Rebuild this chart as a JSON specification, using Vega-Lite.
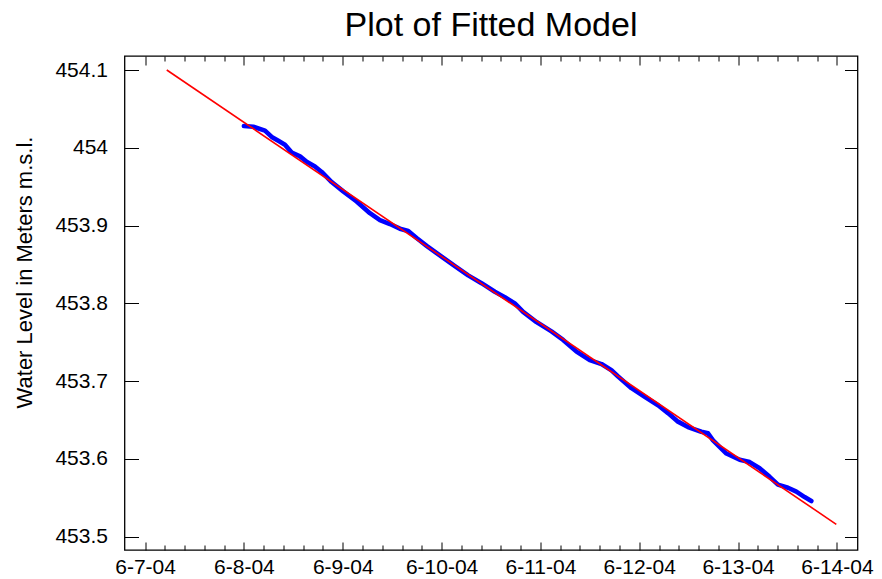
{
  "$schema": "https://vega.github.io/schema/vega-lite/v6.json",
  "width": 733,
  "height": 494,
  "autosize": "none",
  "padding": {"left": 124.5, "top": 56, "right": 24.5, "bottom": 29},
  "background": "white",
  "title": {
    "text": "Plot of Fitted Model",
    "font": "Liberation Sans",
    "fontSize": 34,
    "fontWeight": "normal",
    "color": "black",
    "anchor": "middle",
    "frame": "group",
    "baseline": "alphabetic",
    "offset": 19,
    "dy": 33
  },
  "config": {
    "view": {"stroke": "black", "strokeWidth": 1.3},
    "axis": {
      "grid": false,
      "domain": false,
      "tickColor": "black",
      "tickWidth": 1,
      "labelColor": "black",
      "labelFont": "Liberation Sans",
      "labelFontSize": 21,
      "titleFont": "Liberation Sans",
      "titleColor": "black"
    }
  },
  "datasets": {
    "obs": [
      {"t": "2004-06-08T00:00", "v": 454.028},
      {"t": "2004-06-08T02:17", "v": 454.027},
      {"t": "2004-06-08T05:07", "v": 454.022},
      {"t": "2004-06-08T06:45", "v": 454.014},
      {"t": "2004-06-08T08:21", "v": 454.009},
      {"t": "2004-06-08T09:58", "v": 454.004},
      {"t": "2004-06-08T11:36", "v": 453.994},
      {"t": "2004-06-08T13:37", "v": 453.989},
      {"t": "2004-06-08T15:14", "v": 453.982},
      {"t": "2004-06-08T17:15", "v": 453.976},
      {"t": "2004-06-08T18:53", "v": 453.969},
      {"t": "2004-06-08T21:18", "v": 453.956},
      {"t": "2004-06-09T00:07", "v": 453.944},
      {"t": "2004-06-09T03:22", "v": 453.931},
      {"t": "2004-06-09T06:36", "v": 453.916},
      {"t": "2004-06-09T09:02", "v": 453.907},
      {"t": "2004-06-09T11:27", "v": 453.902},
      {"t": "2004-06-09T13:53", "v": 453.896},
      {"t": "2004-06-09T15:54", "v": 453.893},
      {"t": "2004-06-09T17:56", "v": 453.884},
      {"t": "2004-06-09T20:22", "v": 453.874},
      {"t": "2004-06-10T00:00", "v": 453.860},
      {"t": "2004-06-10T03:14", "v": 453.848},
      {"t": "2004-06-10T06:27", "v": 453.836},
      {"t": "2004-06-10T09:42", "v": 453.826},
      {"t": "2004-06-10T12:56", "v": 453.815},
      {"t": "2004-06-10T15:22", "v": 453.808},
      {"t": "2004-06-10T17:47", "v": 453.800},
      {"t": "2004-06-10T19:48", "v": 453.789},
      {"t": "2004-06-10T23:03", "v": 453.776},
      {"t": "2004-06-11T02:41", "v": 453.764},
      {"t": "2004-06-11T05:31", "v": 453.753},
      {"t": "2004-06-11T08:46", "v": 453.738},
      {"t": "2004-06-11T11:59", "v": 453.727},
      {"t": "2004-06-11T14:50", "v": 453.722},
      {"t": "2004-06-11T17:15", "v": 453.714},
      {"t": "2004-06-11T18:52", "v": 453.706},
      {"t": "2004-06-11T22:07", "v": 453.691},
      {"t": "2004-06-12T01:20", "v": 453.680},
      {"t": "2004-06-12T04:34", "v": 453.669},
      {"t": "2004-06-12T06:59", "v": 453.659},
      {"t": "2004-06-12T09:25", "v": 453.648},
      {"t": "2004-06-12T11:50", "v": 453.641},
      {"t": "2004-06-12T15:05", "v": 453.635},
      {"t": "2004-06-12T16:42", "v": 453.633},
      {"t": "2004-06-12T17:55", "v": 453.624},
      {"t": "2004-06-12T21:10", "v": 453.607},
      {"t": "2004-06-13T00:23", "v": 453.599},
      {"t": "2004-06-13T02:49", "v": 453.596},
      {"t": "2004-06-13T05:14", "v": 453.588},
      {"t": "2004-06-13T07:40", "v": 453.577},
      {"t": "2004-06-13T09:41", "v": 453.567},
      {"t": "2004-06-13T12:07", "v": 453.563},
      {"t": "2004-06-13T14:09", "v": 453.558},
      {"t": "2004-06-13T16:10", "v": 453.551},
      {"t": "2004-06-13T17:47", "v": 453.546}
    ],
    "fit": [
      {"t": "2004-06-07T05:16", "v": 454.1},
      {"t": "2004-06-13T23:51", "v": 453.516}
    ]
  },
  "resolve": {"axis": {"x": "independent", "y": "independent"}},
  "layer": [
    {
      "data": {"name": "obs"},
      "mark": {"type": "line", "color": "#0000ff", "strokeWidth": 4.6, "strokeCap": "round", "strokeJoin": "round"},
      "encoding": {
        "x": {
          "field": "t", "type": "temporal",
          "scale": {"domain": [{"year": 2004, "month": 6, "date": 6, "hours": 19}, {"year": 2004, "month": 6, "date": 14, "hours": 5}]},
          "axis": {
            "orient": "bottom", "title": null, "ticks": false, "labelPadding": 6.5,
            "format": "%-m-%-d-%y", "formatType": "time", "labelFlush": false, "labelOverlap": false,
            "values": [
              {"year": 2004, "month": 6, "date": 7}, {"year": 2004, "month": 6, "date": 8},
              {"year": 2004, "month": 6, "date": 9}, {"year": 2004, "month": 6, "date": 10},
              {"year": 2004, "month": 6, "date": 11}, {"year": 2004, "month": 6, "date": 12},
              {"year": 2004, "month": 6, "date": 13}, {"year": 2004, "month": 6, "date": 14}
            ]
          }
        },
        "y": {
          "field": "v", "type": "quantitative",
          "scale": {"domain": [453.483, 454.118], "zero": false, "nice": false},
          "axis": {
            "orient": "left", "ticks": false, "labelPadding": 17, "format": "~g", "labelFlush": false,
            "values": [453.5, 453.6, 453.7, 453.8, 453.9, 454.0, 454.1],
            "title": "Water Level in Meters m.s.l.",
            "titleFontSize": 22, "titleFontWeight": "normal", "titleAngle": -90,
            "titleAlign": "center", "titleBaseline": "alphabetic",
            "titleX": -93.5, "titleY": 216
          }
        }
      }
    },
    {
      "data": {"name": "fit"},
      "mark": {"type": "line", "color": "#ff0000", "strokeWidth": 1.6},
      "encoding": {
        "x": {
          "field": "t", "type": "temporal",
          "scale": {"domain": [{"year": 2004, "month": 6, "date": 6, "hours": 19}, {"year": 2004, "month": 6, "date": 14, "hours": 5}]},
          "axis": {
            "orient": "bottom", "title": null, "labels": false, "tickSize": -8,
            "values": [
              {"year": 2004, "month": 6, "date": 7}, {"year": 2004, "month": 6, "date": 8},
              {"year": 2004, "month": 6, "date": 9}, {"year": 2004, "month": 6, "date": 10},
              {"year": 2004, "month": 6, "date": 11}, {"year": 2004, "month": 6, "date": 12},
              {"year": 2004, "month": 6, "date": 13}, {"year": 2004, "month": 6, "date": 14}
            ]
          }
        },
        "y": {
          "field": "v", "type": "quantitative",
          "scale": {"domain": [453.483, 454.118], "zero": false, "nice": false},
          "axis": {
            "orient": "left", "title": null, "labels": false, "tickSize": -14,
            "values": [453.5, 453.6, 453.7, 453.8, 453.9, 454.0, 454.1]
          }
        }
      }
    },
    {
      "data": {"name": "fit"},
      "mark": {"type": "line", "strokeOpacity": 0},
      "encoding": {
        "x": {
          "field": "t", "type": "temporal",
          "scale": {"domain": [{"year": 2004, "month": 6, "date": 6, "hours": 19}, {"year": 2004, "month": 6, "date": 14, "hours": 5}]},
          "axis": {
            "orient": "bottom", "title": null, "labels": false, "tickSize": -5,
            "values": [
              {"year": 2004, "month": 6, "date": 7, "hours": 4, "minutes": 48}, {"year": 2004, "month": 6, "date": 7, "hours": 9, "minutes": 36}, {"year": 2004, "month": 6, "date": 7, "hours": 14, "minutes": 24}, {"year": 2004, "month": 6, "date": 7, "hours": 19, "minutes": 12},
              {"year": 2004, "month": 6, "date": 8, "hours": 4, "minutes": 48}, {"year": 2004, "month": 6, "date": 8, "hours": 9, "minutes": 36}, {"year": 2004, "month": 6, "date": 8, "hours": 14, "minutes": 24}, {"year": 2004, "month": 6, "date": 8, "hours": 19, "minutes": 12},
              {"year": 2004, "month": 6, "date": 9, "hours": 4, "minutes": 48}, {"year": 2004, "month": 6, "date": 9, "hours": 9, "minutes": 36}, {"year": 2004, "month": 6, "date": 9, "hours": 14, "minutes": 24}, {"year": 2004, "month": 6, "date": 9, "hours": 19, "minutes": 12},
              {"year": 2004, "month": 6, "date": 10, "hours": 4, "minutes": 48}, {"year": 2004, "month": 6, "date": 10, "hours": 9, "minutes": 36}, {"year": 2004, "month": 6, "date": 10, "hours": 14, "minutes": 24}, {"year": 2004, "month": 6, "date": 10, "hours": 19, "minutes": 12},
              {"year": 2004, "month": 6, "date": 11, "hours": 4, "minutes": 48}, {"year": 2004, "month": 6, "date": 11, "hours": 9, "minutes": 36}, {"year": 2004, "month": 6, "date": 11, "hours": 14, "minutes": 24}, {"year": 2004, "month": 6, "date": 11, "hours": 19, "minutes": 12},
              {"year": 2004, "month": 6, "date": 12, "hours": 4, "minutes": 48}, {"year": 2004, "month": 6, "date": 12, "hours": 9, "minutes": 36}, {"year": 2004, "month": 6, "date": 12, "hours": 14, "minutes": 24}, {"year": 2004, "month": 6, "date": 12, "hours": 19, "minutes": 12},
              {"year": 2004, "month": 6, "date": 13, "hours": 4, "minutes": 48}, {"year": 2004, "month": 6, "date": 13, "hours": 9, "minutes": 36}, {"year": 2004, "month": 6, "date": 13, "hours": 14, "minutes": 24}, {"year": 2004, "month": 6, "date": 13, "hours": 19, "minutes": 12}
            ]
          }
        },
        "y": {
          "field": "v", "type": "quantitative",
          "scale": {"domain": [453.483, 454.118], "zero": false, "nice": false},
          "axis": {
            "orient": "right", "title": null, "labels": false, "tickSize": -13,
            "values": [453.5, 453.6, 453.7, 453.8, 453.9, 454.0, 454.1]
          }
        }
      }
    },
    {
      "data": {"name": "fit"},
      "mark": {"type": "line", "strokeOpacity": 0},
      "encoding": {
        "x": {
          "field": "t", "type": "temporal",
          "scale": {"domain": [{"year": 2004, "month": 6, "date": 6, "hours": 19}, {"year": 2004, "month": 6, "date": 14, "hours": 5}]},
          "axis": {
            "orient": "top", "title": null, "labels": false, "tickSize": -9,
            "values": [
              {"year": 2004, "month": 6, "date": 7}, {"year": 2004, "month": 6, "date": 8},
              {"year": 2004, "month": 6, "date": 9}, {"year": 2004, "month": 6, "date": 10},
              {"year": 2004, "month": 6, "date": 11}, {"year": 2004, "month": 6, "date": 12},
              {"year": 2004, "month": 6, "date": 13}, {"year": 2004, "month": 6, "date": 14}
            ]
          }
        },
        "y": {
          "field": "v", "type": "quantitative",
          "scale": {"domain": [453.483, 454.118], "zero": false, "nice": false},
          "axis": null
        }
      }
    },
    {
      "data": {"name": "fit"},
      "mark": {"type": "line", "strokeOpacity": 0},
      "encoding": {
        "x": {
          "field": "t", "type": "temporal",
          "scale": {"domain": [{"year": 2004, "month": 6, "date": 6, "hours": 19}, {"year": 2004, "month": 6, "date": 14, "hours": 5}]},
          "axis": {
            "orient": "top", "title": null, "labels": false, "tickSize": -5,
            "values": [
              {"year": 2004, "month": 6, "date": 7, "hours": 4, "minutes": 48}, {"year": 2004, "month": 6, "date": 7, "hours": 9, "minutes": 36}, {"year": 2004, "month": 6, "date": 7, "hours": 14, "minutes": 24}, {"year": 2004, "month": 6, "date": 7, "hours": 19, "minutes": 12},
              {"year": 2004, "month": 6, "date": 8, "hours": 4, "minutes": 48}, {"year": 2004, "month": 6, "date": 8, "hours": 9, "minutes": 36}, {"year": 2004, "month": 6, "date": 8, "hours": 14, "minutes": 24}, {"year": 2004, "month": 6, "date": 8, "hours": 19, "minutes": 12},
              {"year": 2004, "month": 6, "date": 9, "hours": 4, "minutes": 48}, {"year": 2004, "month": 6, "date": 9, "hours": 9, "minutes": 36}, {"year": 2004, "month": 6, "date": 9, "hours": 14, "minutes": 24}, {"year": 2004, "month": 6, "date": 9, "hours": 19, "minutes": 12},
              {"year": 2004, "month": 6, "date": 10, "hours": 4, "minutes": 48}, {"year": 2004, "month": 6, "date": 10, "hours": 9, "minutes": 36}, {"year": 2004, "month": 6, "date": 10, "hours": 14, "minutes": 24}, {"year": 2004, "month": 6, "date": 10, "hours": 19, "minutes": 12},
              {"year": 2004, "month": 6, "date": 11, "hours": 4, "minutes": 48}, {"year": 2004, "month": 6, "date": 11, "hours": 9, "minutes": 36}, {"year": 2004, "month": 6, "date": 11, "hours": 14, "minutes": 24}, {"year": 2004, "month": 6, "date": 11, "hours": 19, "minutes": 12},
              {"year": 2004, "month": 6, "date": 12, "hours": 4, "minutes": 48}, {"year": 2004, "month": 6, "date": 12, "hours": 9, "minutes": 36}, {"year": 2004, "month": 6, "date": 12, "hours": 14, "minutes": 24}, {"year": 2004, "month": 6, "date": 12, "hours": 19, "minutes": 12},
              {"year": 2004, "month": 6, "date": 13, "hours": 4, "minutes": 48}, {"year": 2004, "month": 6, "date": 13, "hours": 9, "minutes": 36}, {"year": 2004, "month": 6, "date": 13, "hours": 14, "minutes": 24}, {"year": 2004, "month": 6, "date": 13, "hours": 19, "minutes": 12}
            ]
          }
        },
        "y": {
          "field": "v", "type": "quantitative",
          "scale": {"domain": [453.483, 454.118], "zero": false, "nice": false},
          "axis": null
        }
      }
    }
  ]
}
